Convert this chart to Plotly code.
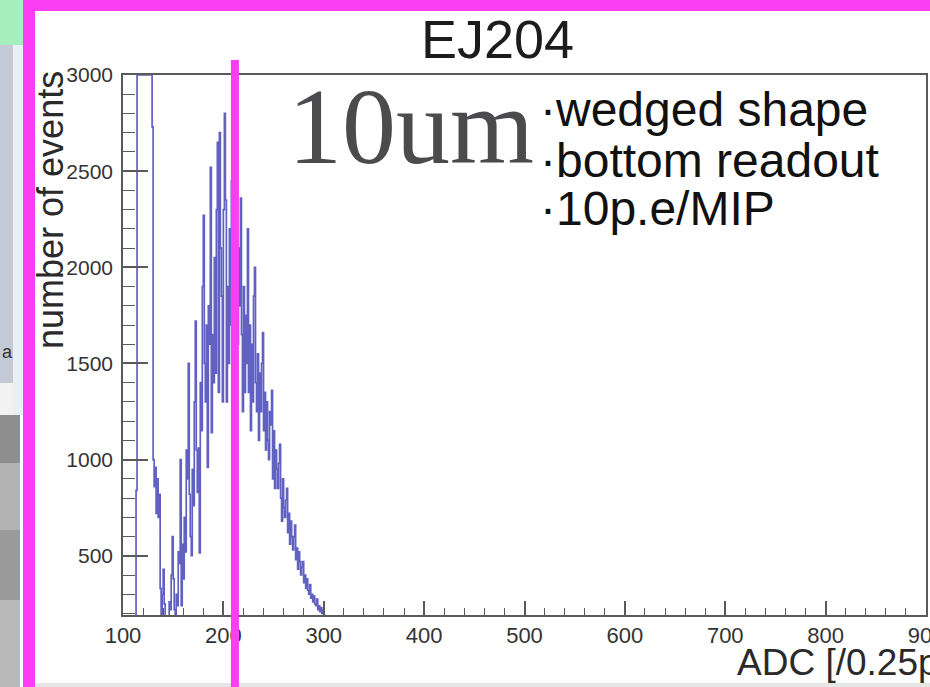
import plotly.graph_objects as go

# ---------------- data ----------------
adc_start = 100  # left edge of first 1-ADC bin
counts = (
    [0] * 13 +                      # 100-112
    [840] +                         # 113
    [3000] * 15 +                   # 114-128 (off scale)
    [2730, 1000, 860, 960, 720, 900, 700, 820] +           # 129-136
    [330, 120, 300, 430, 250, 150, 100, 180, 130, 260, 220, 400] +  # 137-148
    [600, 380, 220, 150, 300, 240, 520, 460] +              # 149-156
    [1000, 240, 560, 380, 700, 520, 1050, 900] +            # 157-164
    [1500, 820, 600, 500, 950, 760, 1300] +                 # 165-171
    [1720, 1050, 830, 1060, 515, 1400, 1150, 1900] +        # 172-179
    [2270, 1500, 1300, 1700, 960, 1800, 1600] +             # 180-186
    [2520, 1140, 1650, 1400, 2050, 1450, 2300] +            # 187-193
    [2650, 1350, 2700, 2100, 1850, 1300, 2300] +            # 194-200
    [2800, 2350, 1300, 1900, 1500, 2200, 1700, 2450] +      # 201-208
    [2650, 1700, 2200, 1300, 2000, 1600, 2100, 1800] +      # 209-216
    [2360, 1650, 1250, 1900, 1350, 1750, 1500] +            # 217-223
    [2200, 1350, 1700, 1150, 1600, 1300, 1850] +            # 224-230
    [2000, 1400, 1250, 1550, 1100, 1450, 1250, 1500] +      # 231-238
    [1660, 1150, 1350, 1050, 1300, 1100, 1000, 1250, 1180] +  # 239-247
    [1360, 900, 1150, 850, 1050, 950, 850, 980] +           # 248-255
    [1080, 800, 680, 900, 750, 700, 790] +                  # 256-262
    [850, 620, 720, 560, 680, 600, 530, 600] +              # 263-270
    [660, 480, 540, 430, 520, 470, 400, 440] +              # 271-278
    [470, 360, 400, 330, 380, 320, 300] +                   # 279-285
    [350, 280, 300, 260, 290, 250, 240] +                   # 286-292
    [275, 220, 240, 210, 230, 200, 220] +                   # 293-299
    [190, 160, 120, 80, 40, 0]                              # 300-305
)
x_edges = [adc_start + i for i in range(len(counts) + 1)]
y_steps = counts + [counts[-1]]

title_text = "EJ204"
y_title = "number of events"
x_title = "ADC [/0.25pC]"
big_label = "10um"
notes = ["·wedged shape", "·bottom readout", "·10p.e/MIP"]
marker_adc = 211.5

# ---------------- geometry helpers ----------------
W, H = 930, 687
L, R, T, B = 123, 4, 75, 72
PW, PH = W - L - R, H - T - B


def px(x):
    return (x - L) / PW


def py(y):
    return (H - B - y) / PH


fig = go.Figure()
fig.add_trace(go.Scatter(
    x=x_edges, y=y_steps, mode="lines", line_shape="hv",
    line=dict(color="rgba(36,36,170,0.72)", width=1.7),
    showlegend=False, hoverinfo="skip",
))

axis_common = dict(
    showgrid=False, zeroline=False, showline=True, mirror=True, automargin=False,
    linecolor="#5a5a5a", linewidth=1.5, ticks="inside", tickcolor="#5a5a5a",
    tickfont=dict(family="Liberation Sans, Arial", color="#333333"),
)
fig.update_xaxes(
    **axis_common, range=[100, 900], tick0=0, dtick=100, ticklen=14, tickwidth=1.5,
    tickfont_size=22, ticklabeloverflow="allow", ticklabelstandoff=0,
    minor=dict(ticks="inside", dtick=20, ticklen=7, tickcolor="#5a5a5a", tickwidth=1.2),
)
fig.update_yaxes(
    **axis_common, range=[192, 3000], tick0=0, dtick=500, ticklen=25, tickwidth=1.5,
    tickfont_size=21, ticklabelstandoff=4,
    minor=dict(ticks="inside", dtick=100, ticklen=12, tickcolor="#5a5a5a", tickwidth=1.2),
)

shapes = []


def rect(x0, y0, x1, y1, color):
    shapes.append(dict(type="rect", xref="paper", yref="paper",
                       x0=px(x0), x1=px(x1), y0=py(y1), y1=py(y0),
                       fillcolor=color, line=dict(width=0), layer="above"))


# decorations outside the white panel
rect(0, 0, 23, 45, "#a6efbd")
rect(0, 45, 13, 383, "#c3cad5")
rect(13, 45, 23, 415, "#eceef1")
rect(0, 383, 13, 415, "#f2f2f2")
rect(0, 415, 20, 463, "#8e8e8e")
rect(0, 463, 20, 530, "#b3b3b3")
rect(0, 530, 20, 600, "#9a9a9a")
rect(0, 600, 20, 687, "#b9b9b9")
rect(35, 683, 930, 687, "#e6e6e6")
rect(23, 0, 35, 687, "#fb3ef4")
rect(23, 0, 930, 11, "#fb3ef4")
# magenta marker line
shapes.append(dict(type="line", xref="x", yref="paper", x0=marker_adc, x1=marker_adc,
                   y0=py(687), y1=py(60), line=dict(color="#fb3ef4", width=8), layer="above"))

annotations = [
    dict(text=title_text, x=px(497), y=py(39), xref="paper", yref="paper",
         showarrow=False, xanchor="center", yanchor="middle",
         font=dict(family="Liberation Sans, Arial", size=54, color="#1c1c1c")),
    dict(text=y_title, x=px(50), y=py(210), xref="paper", yref="paper", textangle=-90,
         showarrow=False, xanchor="center", yanchor="middle",
         font=dict(family="Liberation Sans, Arial", size=36, color="#2a2a2a")),
    dict(text=x_title, x=px(735), y=py(662), xref="paper", yref="paper",
         showarrow=False, xanchor="left", yanchor="middle",
         font=dict(family="Liberation Sans, Arial", size=37, color="#2a2a2a")),
    dict(text=big_label, x=px(286), y=py(126), xref="paper", yref="paper",
         showarrow=False, xanchor="left", yanchor="middle",
         font=dict(family="Liberation Serif, Times New Roman", size=108, color="#4b4b4d")),
    dict(text="a", x=px(0), y=py(352), xref="paper", yref="paper",
         showarrow=False, xanchor="left", yanchor="middle",
         font=dict(family="Liberation Sans, Arial", size=18, color="#333333")),
]
for t, yc in zip(notes, [110, 160, 209]):
    annotations.append(dict(text=t, x=px(538), y=py(yc), xref="paper", yref="paper",
                            showarrow=False, xanchor="left", yanchor="middle",
                            font=dict(family="Liberation Sans, Arial", size=48, color="#111111")))

fig.update_layout(
    width=W, height=H, margin=dict(l=L, r=R, t=T, b=B, pad=0, autoexpand=False),
    paper_bgcolor="white", plot_bgcolor="white",
    shapes=shapes, annotations=annotations, showlegend=False,
)
fig.write_html("out.html")
